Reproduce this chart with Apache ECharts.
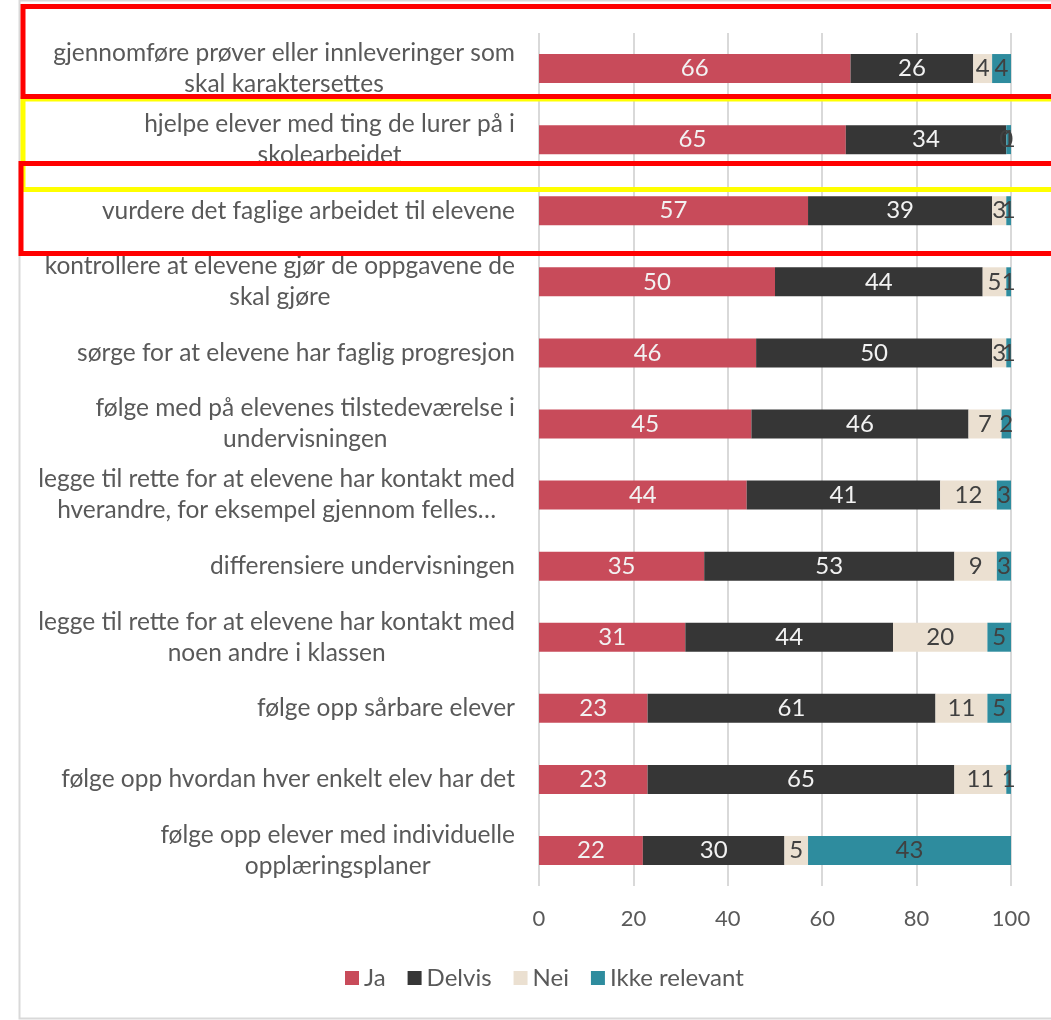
<!DOCTYPE html>
<html>
<head>
<meta charset="utf-8">
<script src="https://cdn.jsdelivr.net/npm/echarts@6/dist/echarts.min.js"></script>
<style>
  html, body { margin: 0; padding: 0; background: #ffffff; }
  #chart { width: 1051px; height: 1020px; }
</style>
</head>
<body>
<div id="chart"></div>
<script>
// ---- Data ----
const categories = [
  "gjennomføre prøver eller innleveringer som\nskal karaktersettes",
  "hjelpe elever med ting de lurer på i\nskolearbeidet",
  "vurdere det faglige arbeidet til elevene",
  "kontrollere at elevene gjør de oppgavene de\nskal gjøre",
  "sørge for at elevene har faglig progresjon",
  "følge med på elevenes tilstedeværelse i\nundervisningen",
  "legge til rette for at elevene har kontakt med\nhverandre, for eksempel gjennom felles…",
  "differensiere undervisningen",
  "legge til rette for at elevene har kontakt med\nnoen andre i klassen",
  "følge opp sårbare elever",
  "følge opp hvordan hver enkelt elev har det",
  "følge opp elever med individuelle\nopplæringsplaner"
];
const seriesNames = ["Ja", "Delvis", "Nei", "Ikke relevant"];
const ja      = [66, 65, 57, 50, 46, 45, 44, 35, 31, 23, 23, 22];
const delvis  = [26, 34, 39, 44, 50, 46, 41, 53, 44, 61, 65, 30];
const nei     = [4, 0, 3, 5, 3, 7, 12, 9, 20, 11, 11, 5];
const ikkeRel = [4, 1, 1, 1, 1, 2, 3, 3, 5, 5, 1, 43];
const xTicks  = [0, 20, 40, 60, 80, 100];

// ---- Styles ----
const FONT = 'Lato';
const colors = ['#C84B5A', '#363636', '#EBE0D1', '#2E8C9E'];
const labelColors = ['#F2F2F2', '#F2F2F2', '#404040', '#404040'];
const valueSets = [ja, delvis, nei, ikkeRel];

const series = seriesNames.map((name, i) => ({
  name: name,
  type: 'bar',
  stack: 'total',
  data: valueSets[i],
  barWidth: 29,
  itemStyle: { color: colors[i] },
  label: {
    show: true,
    position: 'inside',
    color: labelColors[i],
    fontFamily: FONT,
    fontSize: 24
  },
  emphasis: { disabled: true }
}));

const chart = echarts.init(document.getElementById('chart'), null, { renderer: 'canvas' });
chart.setOption({
  animation: false,
  backgroundColor: '#ffffff',
  color: colors,
  grid: { left: 539, right: 40, top: 33, bottom: 134, containLabel: false },
  xAxis: {
    type: 'value',
    min: xTicks[0],
    max: xTicks[xTicks.length - 1],
    interval: 20,
    axisLine: { show: false },
    axisTick: { show: false },
    splitLine: { show: true, lineStyle: { color: '#D9D9D9', width: 2 } },
    axisLabel: { color: '#595959', fontFamily: FONT, fontSize: 22, margin: 22 }
  },
  yAxis: {
    type: 'category',
    data: categories,
    inverse: true,
    axisLine: { show: false },
    axisTick: { show: false },
    axisLabel: {
      color: '#595959',
      fontFamily: FONT,
      fontSize: 24.5,
      lineHeight: 31,
      margin: 24,
      align: 'right',
      formatter: function (value) {
        return value.split('\n').map(l => '{c|' + l + '}').join('\n');
      },
      rich: {
        c: { align: 'center', color: '#595959', fontFamily: FONT, fontSize: 24.5, lineHeight: 31 }
      }
    }
  },
  legend: {
    data: seriesNames,
    left: 340,
    top: 961,
    icon: 'rect',
    itemWidth: 14,
    itemHeight: 14,
    itemGap: 22,
    textStyle: { color: '#595959', fontFamily: FONT, fontSize: 24 }
  },
  series: series,
  graphic: [
    { type: 'rect', silent: true, z: 100,
      shape: { x: 19.5, y: 0.5, width: 1100, height: 1018 },
      style: { fill: null, stroke: '#D9D9D9', lineWidth: 2 } },
    { type: 'rect', silent: true, z: 101,
      shape: { x: 23, y: 99, width: 1100, height: 90.5 },
      style: { fill: null, stroke: '#FFFF00', lineWidth: 5 } },
    { type: 'rect', silent: true, z: 102,
      shape: { x: 23, y: 6.5, width: 1100, height: 90 },
      style: { fill: null, stroke: '#FF0000', lineWidth: 5 } },
    { type: 'rect', silent: true, z: 103,
      shape: { x: 21, y: 163.5, width: 1100, height: 90 },
      style: { fill: null, stroke: '#FF0000', lineWidth: 5 } }
  ]
});
</script>
</body>
</html>
